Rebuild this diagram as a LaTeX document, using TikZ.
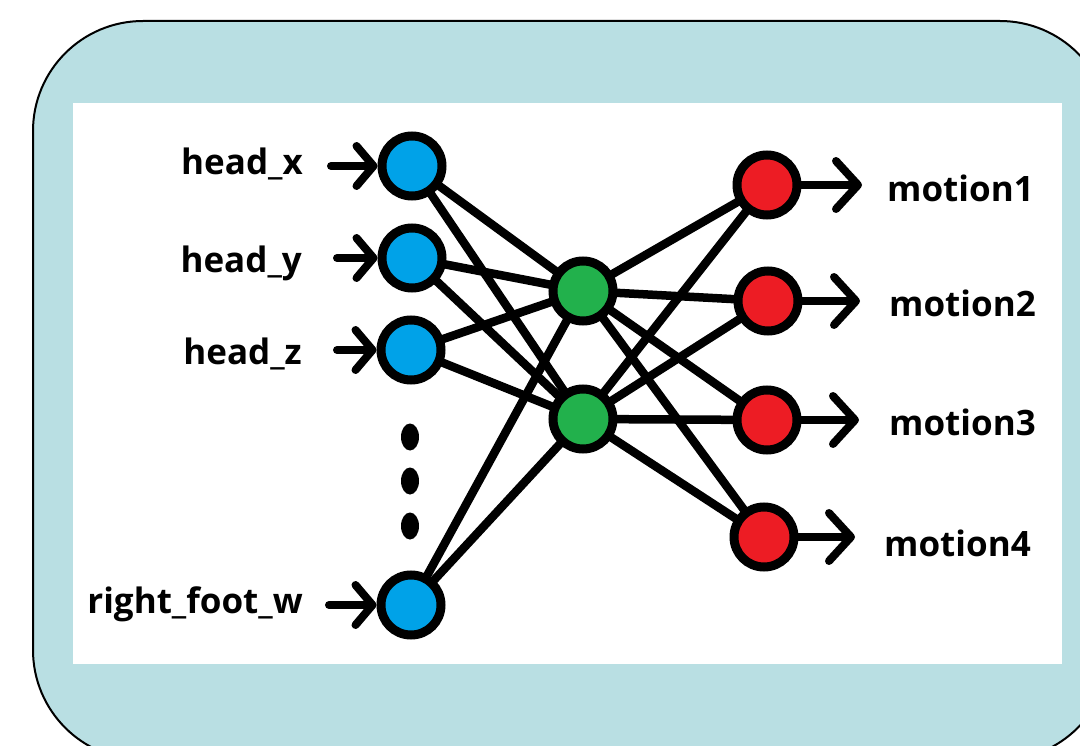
\documentclass[tikz,border=0pt]{standalone}
\usepackage{fontspec}
\setmainfont{Open Sans}
\usetikzlibrary{arrows.meta,shapes.geometric}
\pgfdeclarelayer{bg}
\pgfdeclarelayer{edges}
\pgfsetlayers{bg,edges,main}
\definecolor{panel}{RGB}{185,223,227}
\definecolor{inblue}{RGB}{0,162,232}
\definecolor{hidgreen}{RGB}{34,177,76}
\definecolor{outred}{RGB}{237,28,36}
\tikzset{
  neuron/.style={circle,draw=black,line width=9pt,minimum size=60pt,inner sep=0pt},
  innode/.style={neuron,fill=inblue},
  hidnode/.style={neuron,fill=hidgreen},
  outnode/.style={neuron,fill=outred},
  wire/.style={line width=8.5pt,line cap=round},
  feed/.style={line width=8pt,line cap=round,-{Straight Barb[length=17pt,width=40pt,round]}},
  emit/.style={line width=8pt,line cap=round,-{Straight Barb[length=22pt,width=48pt,round]}},
  lbl/.style={font=\fontsize{35}{40}\selectfont\bfseries,inner sep=0pt},
  dot/.style={ellipse,fill=black,minimum width=18pt,minimum height=27pt,inner sep=0pt}
}
\begin{document}
\begin{tikzpicture}[x=1pt,y=-1pt]
\useasboundingbox (0,0) rectangle (1080,746);
\clip (0,0) rectangle (1080,746);
\begin{pgfonlayer}{bg}
  \draw[fill=panel,line width=2pt,rounded corners=110pt] (33,21) rectangle (1110,760);
  \fill[white] (73,103) rectangle (1062,664);
\end{pgfonlayer}

% input layer
\node[innode] (b1) at (412,166) {};
\node[innode] (b2) at (412,258) {};
\node[innode] (b3) at (411,350) {};
\node[innode] (b4) at (411,605) {};
% hidden layer
\node[hidnode] (g1) at (583,291) {};
\node[hidnode] (g2) at (583,419) {};
% output layer
\node[outnode] (r1) at (767,185) {};
\node[outnode] (r2) at (768,301) {};
\node[outnode] (r3) at (767,420) {};
\node[outnode] (r4) at (764,537) {};

% ellipsis between inputs
\node[dot] (d1) at (410,437) {};
\node[dot] (d2) at (410,481) {};
\node[dot] (d3) at (410,526) {};

% weights
\begin{pgfonlayer}{edges}
  \foreach \i in {b1,b2,b3,b4}
    \foreach \h in {g1,g2}
      \draw[wire] (\i.center) -- (\h.center);
  \foreach \h in {g1,g2}
    \foreach \o in {r1,r2,r3,r4}
      \draw[wire] (\h.center) -- (\o.center);
\end{pgfonlayer}

% input labels and arrows
\node[lbl,anchor=base east] (lx) at (303,175) {head\_x};
\node[lbl,anchor=base east] (ly) at (302,273) {head\_y};
\node[lbl,anchor=base east] (lz) at (302,365) {head\_z};
\node[lbl,anchor=base east] (lw) at (303,613) {right\_foot\_w};
\coordinate (s1) at (331,166);
\coordinate (s2) at (337,258);
\coordinate (s3) at (337,350);
\coordinate (s4) at (329,605);
\draw[feed] (s1) -- (b1.west);
\draw[feed] (s2) -- (b2.west);
\draw[feed] (s3) -- (b3.west);
\draw[feed] (s4) -- (b4.west);

% output arrows and labels
\coordinate (t1) at (862,185);
\coordinate (t2) at (860,301);
\coordinate (t3) at (859,420);
\coordinate (t4) at (855,537);
\draw[emit] (r1.east) -- (t1);
\draw[emit] (r2.east) -- (t2);
\draw[emit] (r3.east) -- (t3);
\draw[emit] (r4.east) -- (t4);
\node[lbl,anchor=base west] (m1) at (887,202) {motion1};
\node[lbl,anchor=base west] (m2) at (889,317) {motion2};
\node[lbl,anchor=base west] (m3) at (889,435) {motion3};
\node[lbl,anchor=base west] (m4) at (884,556) {motion4};
\end{tikzpicture}
\end{document}
